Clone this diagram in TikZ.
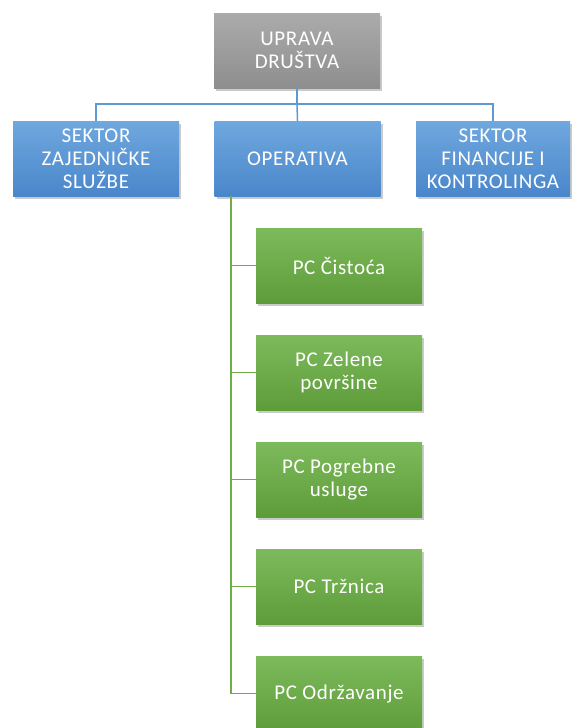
\documentclass[tikz,border=0pt]{standalone}
\usepackage{fontspec}
\setmainfont{Carlito}[LetterSpace=3]
\usetikzlibrary{shadows}
\definecolor{grayT}{HTML}{ABABAB}
\definecolor{grayB}{HTML}{8E8E8E}
\definecolor{blueT}{HTML}{6FA8DE}
\definecolor{blueB}{HTML}{4A86CB}
\definecolor{greenT}{HTML}{7DBA5C}
\definecolor{greenB}{HTML}{5E9C3A}
\definecolor{blueL}{HTML}{5B9BD5}
\definecolor{greenL}{HTML}{70AD47}
\begin{document}
\begin{tikzpicture}[x=1pt,y=-1pt,
  box/.style={minimum width=166pt,minimum height=75pt,inner sep=0pt,align=center,
    text=white,font=\fontsize{21}{23}\selectfont,
    drop shadow={shadow xshift=2pt,shadow yshift=-3pt,opacity=0.35,fill=black!60}},
  graybox/.style={box,top color=grayT,bottom color=grayB},
  bluebox/.style={box,top color=blueT,bottom color=blueB},
  greenbox/.style={box,top color=greenT,bottom color=greenB},
  bline/.style={draw=blueL,line width=1.5pt},
  gline/.style={draw=greenL,line width=1.5pt}]
\useasboundingbox (0,0) rectangle (576,728);
\node[graybox] (top) at (297,50.5) {UPRAVA\\DRUŠTVA};
\node[bluebox] (s1) at (96,158.5) {SEKTOR\\ZAJEDNIČKE\\SLUŽBE};
\node[bluebox] (op) at (297.5,158.5) {OPERATIVA};
\node[bluebox,minimum width=154pt] (s3) at (493,158.5) {SEKTOR\\FINANCIJE I\\KONTROLINGA};
\coordinate (hb) at (297,104);
\draw[bline] (top.south) -- (hb);
\draw[bline] (s1.north) |- (hb) -| (s3.north);
\draw[bline] (hb) -- (op.north);
\node[greenbox] (g1) at (339,265.5) {PC Čistoća};
\node[greenbox] (g2) at (339,372.5) {PC Zelene\\površine};
\node[greenbox] (g3) at (339,479.5) {PC Pogrebne\\usluge};
\node[greenbox] (g4) at (339,586.5) {PC Tržnica};
\node[greenbox] (g5) at (339,693.5) {PC Održavanje};
\coordinate (gv) at (231,196);
\foreach \g in {g1,g2,g3,g4,g5}{
  \draw[gline] (gv) |- (\g.west);
}
\end{tikzpicture}
\end{document}
